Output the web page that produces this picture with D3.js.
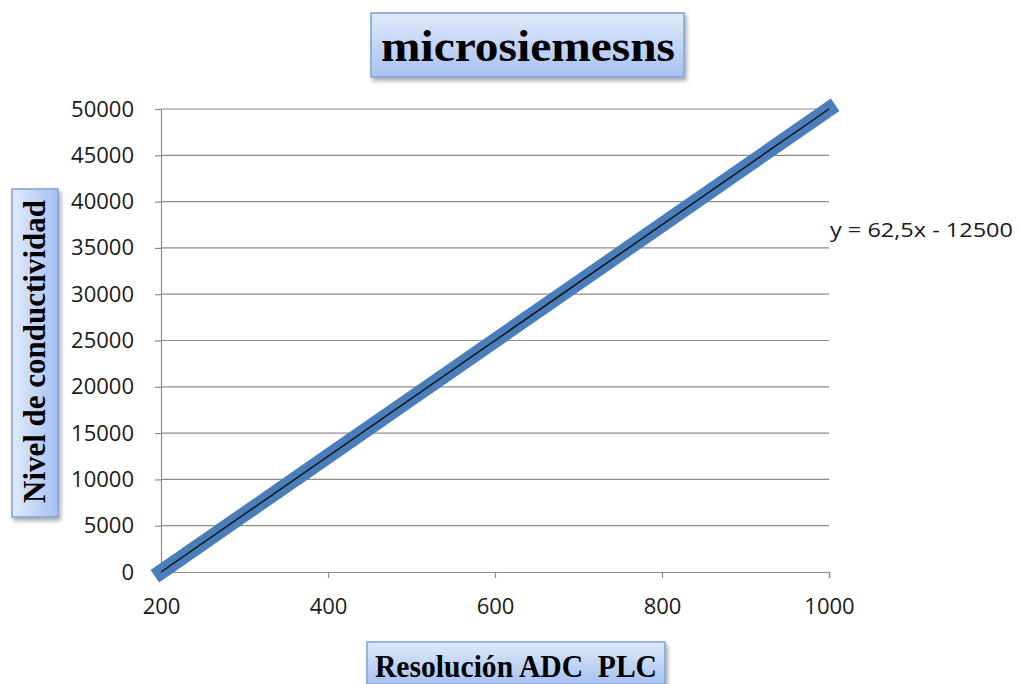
<!DOCTYPE html>
<html><head><meta charset="utf-8">
<script src="https://cdn.jsdelivr.net/npm/d3@7"></script>
<style>body{margin:0;background:#fff}svg{display:block}</style>
</head><body>
<script>
const titleText = "microsiemesns";
const xTitle = "Resolución ADC  PLC";
const yTitle = "Nivel de conductividad";
const equation = "y = 62,5x - 12500";
const xValues = [200, 300, 400, 500, 600, 700, 800, 900, 1000];
const yValues = [0, 6250, 12500, 18750, 25000, 31250, 37500, 43750, 50000];
const xTicks = [200, 400, 600, 800, 1000];
const yTicks = [0,5000,10000,15000,20000,25000,30000,35000,40000,45000,50000];

const W = 1023, H = 684;
const svg = d3.select("body").append("svg").attr("width", W).attr("height", H);
const defs = svg.append("defs");
const gradV = defs.append("linearGradient").attr("id","gv").attr("x1",0).attr("y1",0).attr("x2",0).attr("y2",1);
gradV.append("stop").attr("offset","0%").attr("stop-color","#e1eafb");
gradV.append("stop").attr("offset","100%").attr("stop-color","#a6c1f1");
const gradH = defs.append("linearGradient").attr("id","gh").attr("x1",0).attr("y1",0).attr("x2",1).attr("y2",0);
gradH.append("stop").attr("offset","0%").attr("stop-color","#e1eafb");
gradH.append("stop").attr("offset","100%").attr("stop-color","#a6c1f1");
const flt = defs.append("filter").attr("id","sh").attr("x","-20%").attr("y","-20%").attr("width","140%").attr("height","150%");
flt.append("feDropShadow").attr("dx",2).attr("dy",3).attr("stdDeviation",2).attr("flood-color","#000").attr("flood-opacity",0.35);

const x = d3.scaleLinear().domain([200,1000]).range([161,829]);
const y = d3.scaleLinear().domain([0,50000]).range([572,109]);

const tickFont = "'Open Sans', 'DejaVu Sans', sans-serif";

// gridlines
svg.append("g").selectAll("line").data(yTicks.filter(d=>d>0)).join("line")
  .attr("x1",161).attr("x2",829).attr("y1",d=>y(d)).attr("y2",d=>y(d))
  .attr("stroke","#8c8c8c").attr("stroke-width",1.2);

// axes
const yAxis = svg.append("g").attr("transform","translate(161,0)")
  .call(d3.axisLeft(y).tickValues(yTicks).tickSize(6).tickPadding(21).tickFormat(d3.format("d")));
const xAxis = svg.append("g").attr("transform","translate(0,572)")
  .call(d3.axisBottom(x).tickValues(xTicks).tickSize(6).tickPadding(20).tickFormat(d3.format("d")));
[yAxis,xAxis].forEach(a=>{
  a.select(".domain").attr("stroke","#8c8c8c").attr("stroke-width",1.2);
  a.selectAll(".tick line").attr("stroke","#8c8c8c").attr("stroke-width",1.2);
  a.selectAll("text").attr("font-family",tickFont).attr("font-size","22px").attr("fill","#1a1a1a");
});

// series
const pts = xValues.map((v,i)=>[v,yValues[i]]);
svg.append("path").datum(pts)
  .attr("d", d3.line().x(d=>x(d[0])).y(d=>y(d[1])))
  .attr("fill","none").attr("stroke","#4a7ebb").attr("stroke-width",15).attr("stroke-linecap","square");
// trendline
const tr = [[xValues[0],yValues[0]],[xValues[xValues.length-1],yValues[yValues.length-1]]];
svg.append("path").datum(tr)
  .attr("d", d3.line().x(d=>x(d[0])).y(d=>y(d[1])))
  .attr("fill","none").attr("stroke","#111").attr("stroke-width",1.5);

svg.append("text").attr("x",830).attr("y",237).text(equation)
  .attr("textLength",183).attr("lengthAdjust","spacingAndGlyphs")
  .attr("font-family",tickFont).attr("font-size","20px").attr("fill","#1a1a1a");

// title box
svg.append("rect").attr("x",371).attr("y",13).attr("width",313).attr("height",64)
  .attr("fill","url(#gv)").attr("stroke","#7fa3d6").attr("stroke-width",1.5).attr("filter","url(#sh)");
svg.append("text").attr("x",381).attr("y",61).text(titleText)
  .attr("textLength",294).attr("lengthAdjust","spacingAndGlyphs")
  .attr("font-family","'Liberation Serif', serif").attr("font-weight","bold").attr("font-size","44px").attr("fill","#000");

// y title box
svg.append("rect").attr("x",12).attr("y",189).attr("width",46).attr("height",328)
  .attr("fill","url(#gh)").attr("stroke","#7fa3d6").attr("stroke-width",1.5).attr("filter","url(#sh)");
svg.append("text").attr("transform","translate(45,503) rotate(-90)").text(yTitle)
  .attr("textLength",303).attr("lengthAdjust","spacingAndGlyphs")
  .attr("font-family","'Liberation Serif', serif").attr("font-weight","bold").attr("font-size","31px").attr("fill","#000");

// x title box
svg.append("rect").attr("x",367).attr("y",642).attr("width",298).attr("height",42)
  .attr("fill","url(#gv)").attr("stroke","#7fa3d6").attr("stroke-width",1.5).attr("filter","url(#sh)");
svg.append("text").attr("x",375).attr("y",677).text(xTitle)
  .style("white-space","pre")
  .attr("textLength",282).attr("lengthAdjust","spacingAndGlyphs")
  .attr("font-family","'Liberation Serif', serif").attr("font-weight","bold").attr("font-size","31px").attr("fill","#000");
</script>
</body></html>
